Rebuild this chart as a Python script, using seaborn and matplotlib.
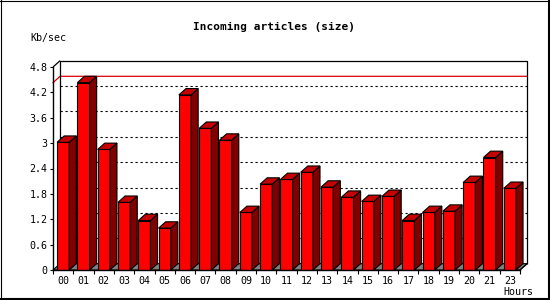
import matplotlib
matplotlib.use("Agg")
import matplotlib.pyplot as plt
import seaborn as sns
import pandas as pd
from matplotlib.patches import Polygon
from matplotlib.lines import Line2D

hours = ["00", "01", "02", "03", "04", "05", "06", "07", "08", "09", "10", "11",
         "12", "13", "14", "15", "16", "17", "18", "19", "20", "21", "23"]
kb_sec = [3.02, 4.43, 2.85, 1.60, 1.17, 0.99, 4.14, 3.35, 3.07, 1.36, 2.03, 2.14,
          2.31, 1.96, 1.72, 1.62, 1.74, 1.17, 1.36, 1.39, 2.07, 2.66, 1.93]
y_ticks = [0, 0.6, 1.2, 1.8, 2.4, 3.0, 3.6, 4.2, 4.8]
y_tick_labels = ["0", "0.6", "1.2", "1.8", "2.4", "3", "3.6", "4.2", "4.8"]
title = "Incoming articles (size)"
y_unit = "Kb/sec"
x_unit = "Hours"

df = pd.DataFrame({"hour": hours, "value": kb_sec})

plt.rcParams["font.family"] = ["DejaVu Sans Mono"]
W, H = 550, 300
fig = plt.figure(figsize=(5.5, 3.0), dpi=100)
fig.patch.set_facecolor("white")

scale = (270 - 67) / 4.8  # px per unit
dx = 0.35
dy = 0.15
ymax = 4.8 + dy
n = len(hours)
xlo, xhi = -0.5, n - 0.5 + dx

ax = fig.add_axes([53 / W, (H - 270) / H, (xhi - xlo) * 20 / W, ymax * scale / H])
ax.set_xlim(xlo, xhi)
ax.set_ylim(0, ymax)
ax.set_facecolor("white")
for s in ax.spines.values():
    s.set_visible(False)

# floor
ax.add_patch(Polygon([(-0.5, 0), (n - 0.5, 0), (n - 0.5 + dx, dy), (-0.5 + dx, dy)],
                     closed=True, facecolor="#808080", edgecolor="black", lw=0.8,
                     zorder=1, clip_on=False))

# gridlines on the back wall
for v in y_ticks[1:-1]:
    ax.plot([-0.5 + dx, xhi], [v + dy, v + dy], color="black", lw=0.8,
            dashes=(2, 2.5), zorder=1.5, clip_on=False)

# max line
vmax = max(kb_sec)
ax.plot([-0.5, -0.5 + dx, xhi], [vmax, vmax + dy, vmax + dy], color="#dd0000",
        lw=0.9, zorder=1.6, clip_on=False)

# back wall frame and side lines
kw = dict(color="black", lw=0.9, zorder=1.7, clip_on=False, solid_capstyle="butt")
ax.plot([-0.5 + dx, -0.5 + dx, xhi, xhi], [dy, ymax, ymax, dy], **kw)
ax.plot([-0.5, -0.5 + dx], [4.8, ymax], **kw)

# front faces via seaborn
sns.barplot(data=df, x="hour", y="value", color="#ff0000", saturation=1,
            width=0.6, edgecolor="black", linewidth=0.8, ax=ax, zorder=3)

# 3D top and side faces
for i, v in enumerate(kb_sec):
    xl, xr = i - 0.3, i + 0.3
    ax.add_patch(Polygon([(xr, 0), (xr + dx, dy), (xr + dx, v + dy), (xr, v)],
                         closed=True, facecolor="#800000", edgecolor="black",
                         lw=0.8, zorder=3.1, clip_on=False))
    ax.add_patch(Polygon([(xl, v), (xr, v), (xr + dx, v + dy), (xl + dx, v + dy)],
                         closed=True, facecolor="#c40000", edgecolor="black",
                         lw=0.8, zorder=3.1, clip_on=False))

# front axis lines
ax.plot([-0.5, -0.5], [0, 4.8], color="black", lw=1.0, zorder=4, clip_on=False)
ax.plot([-0.5, n - 0.5], [0, 0], color="black", lw=1.0, zorder=4, clip_on=False)
ax.plot([n - 0.5, n - 0.5 + dx], [0, dy], color="black", lw=0.9, zorder=4, clip_on=False)

ax.set_xlabel("")
ax.set_ylabel("")
ax.set_yticks(y_ticks)
ax.set_yticklabels(y_tick_labels)
ax.set_xticks(range(n))
ax.set_xticklabels(hours)
ax.set_xticks([i - 0.5 for i in range(n + 1)], minor=True)
ax.tick_params(axis="y", which="major", length=2.5, width=0.8, pad=1.5,
               labelsize=7.2, direction="out", left=True)
ax.tick_params(axis="x", which="major", length=0, pad=4.3, labelsize=7.2)
ax.tick_params(axis="x", which="minor", length=3, width=0.8, direction="out", bottom=True)

fig.text(273.7 / W, 1 - 27 / H, title, ha="center", va="center",
         fontsize=8, fontweight="bold", family="DejaVu Sans Mono")
fig.text(30 / W, 1 - 37.5 / H, y_unit, ha="left", va="center", fontsize=7.2)
fig.text(533 / W, 1 - 292 / H, x_unit, ha="right", va="center", fontsize=7.2)

# outer frame: thin top/left, thicker right/bottom
tf = fig.transFigure
fig.lines.append(Line2D([0.5 / W, 0.5 / W], [0, 1], transform=tf, color="black", lw=0.8))
fig.lines.append(Line2D([0, 1], [1 - 0.5 / H, 1 - 0.5 / H], transform=tf, color="black", lw=0.8))
fig.lines.append(Line2D([1 - 1.0 / W, 1 - 1.0 / W], [0, 1], transform=tf, color="black", lw=1.5))
fig.lines.append(Line2D([0, 1], [1.0 / H, 1.0 / H], transform=tf, color="black", lw=1.5))

fig.savefig("out.png", dpi=100)
